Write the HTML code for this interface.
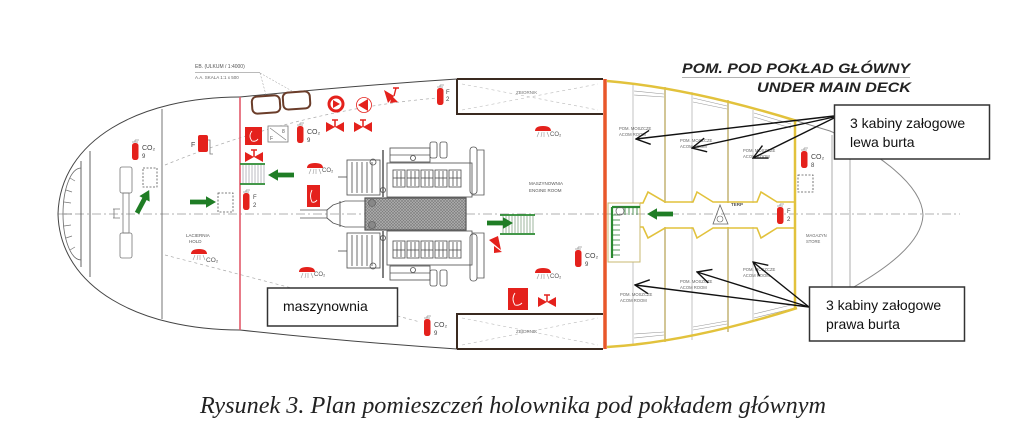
<!DOCTYPE html>
<html><head><meta charset="utf-8">
<style>
html,body{margin:0;padding:0;background:#fff;}
svg{display:block;}
</style></head>
<body>
<svg width="1024" height="430" viewBox="0 0 1024 430" xmlns="http://www.w3.org/2000/svg" font-family="'Liberation Sans', Arial, sans-serif">
<defs>
<pattern id="hatch" width="3" height="3" patternUnits="userSpaceOnUse">
<rect width="3" height="3" fill="#b0b0b0"/>
<path d="M0,0 L3,3 M3,0 L0,3" stroke="#7a7a7a" stroke-width="0.6"/>
</pattern>
<marker id="ah" markerWidth="16" markerHeight="16" refX="15" refY="8" orient="auto" markerUnits="userSpaceOnUse" viewBox="0 0 16 16">
<path d="M1,1 L15,8 L1,15" fill="none" stroke="#111" stroke-width="1.4"/>
</marker>
<g id="ext"><path d="M-3,-1 h6 M0,-1 v-2 M0,-3 h4" stroke="#999" stroke-width="0.8" fill="none"/><rect x="-3" y="0" width="6.5" height="17" rx="2.6" fill="#e4211c"/></g>
<g id="spr"><path d="M-8,0 Q-8,-5 0,-5 Q8,-5 8,0 Z" fill="#e4211c"/><path d="M-4,1 l-2,5 M-1,1 l-1,5 M1,1 l0,5 M4,1 l2,5" stroke="#999" stroke-width="0.6"/></g>
<g id="valve"><path d="M-9,-5 L0,0 L-9,5 Z M9,-5 L0,0 L9,5 Z" fill="#e4211c"/><path d="M0,0 V-7 M-3,-7 H3" stroke="#e4211c" stroke-width="1.5"/></g>
<g id="garr"><path d="M0,-2.4 H16 V-5.8 L26,0 L16,5.8 V2.4 H0 Z" fill="#1f7d25"/></g>
<g id="cyl"><rect x="0" y="0" width="12" height="17" /><line x1="4" y1="1" x2="4" y2="16"/><line x1="8" y1="1" x2="8" y2="16"/><line x1="0" y1="8" x2="12" y2="8"/></g>
<g id="eng" stroke="#555" stroke-width="0.85" fill="none">
<rect x="387" y="163" width="85" height="34"/>
<rect x="390" y="148" width="40" height="14"/>
<line x1="390" y1="155" x2="430" y2="155"/>
<circle cx="413" cy="158" r="2.5"/>
<rect x="430" y="142" width="7" height="16" rx="2"/>
<rect x="440" y="142" width="7" height="16" rx="2"/>
<rect x="470" y="147" width="7" height="47" rx="3"/>
<path d="M477,150 H484 V195 H472"/>
<use href="#cyl" x="393" y="170"/>
<use href="#cyl" x="407" y="170"/>
<use href="#cyl" x="421" y="170"/>
<use href="#cyl" x="435" y="170"/>
<use href="#cyl" x="449" y="170"/>
<rect x="347" y="160" width="33" height="35"/>
<path d="M352,162 V193 M357,162 V193 M362,162 V193 M367,162 V193 M372,162 V193"/>
<line x1="383" y1="150" x2="383" y2="197" stroke-width="1.5"/>
<circle cx="373" cy="162" r="3"/>
<circle cx="383" cy="190" r="2.5"/>
<line x1="338" y1="177" x2="347" y2="177"/>
</g>
</defs>

<!-- center line -->
<path d="M58,214 H960" stroke="#999" stroke-width="0.7" stroke-dasharray="9 3 2 3" fill="none"/>

<!-- hull left/stern -->
<path d="M240,97 C140,97 60,140 58,214 C60,288 140,330 240,330" fill="none" stroke="#444" stroke-width="1"/>
<path d="M240,97 Q350,86 457,79 L603,79" fill="none" stroke="#444" stroke-width="1"/>
<path d="M240,330 Q350,342 457,349 L603,349" fill="none" stroke="#444" stroke-width="1"/>

<!-- stern inner lines -->
<line x1="81" y1="161" x2="81" y2="267" stroke="#555" stroke-width="0.9"/>
<line x1="90" y1="151" x2="90" y2="277" stroke="#555" stroke-width="0.9"/>
<path d="M81,168 A18,46 0 0 0 81,260" fill="none" stroke="#666" stroke-width="0.8"/>
<path d="M66,190 l6,2 M64,202 l7,1 M64,214 l8,0 M64,226 l7,-1 M66,238 l6,-2 M70,178 l5,3 M70,250 l5,-3" stroke="#777" stroke-width="0.7"/>
<line x1="162" y1="109" x2="162" y2="319" stroke="#666" stroke-width="0.9"/>
<!-- propeller -->
<g stroke="#777" stroke-width="0.8" fill="none">
<rect x="120" y="167" width="12" height="26" rx="2"/>
<rect x="123" y="193" width="6" height="40"/>
<rect x="120" y="233" width="12" height="25" rx="2"/>
<path d="M113,209 h7 M113,218 h7 M114,209 v9"/>
</g>

<!-- dashed curves -->
<path d="M165,165 Q300,110 437,98" fill="none" stroke="#aaa" stroke-width="0.7" stroke-dasharray="3 3"/>
<path d="M165,255 Q300,290 420,322" fill="none" stroke="#aaa" stroke-width="0.7" stroke-dasharray="3 3"/>

<!-- red bulkhead -->
<line x1="240" y1="97" x2="240" y2="330" stroke="#e35a6a" stroke-width="1.6"/>

<!-- annotation top-left -->
<text x="195" y="68" font-size="5" fill="#555">EB. (ULKUM / 1:4000)</text>
<line x1="195" y1="72.5" x2="260" y2="72.5" stroke="#777" stroke-width="0.6"/>
<text x="195" y="79" font-size="4.5" fill="#666">A.A. SKALA 1:1 x 500</text>
<path d="M260,73 L266,95 M260,73 L292,91" stroke="#999" stroke-width="0.5" stroke-dasharray="2 1.5" fill="none"/>

<!-- left compartment items -->
<use href="#ext" x="135" y="143"/>
<text x="142" y="150" font-size="7" fill="#444">CO₂</text>
<text x="142" y="158" font-size="6" fill="#444">9</text>
<rect x="143" y="168" width="14" height="19" fill="none" stroke="#555" stroke-width="0.8" stroke-dasharray="2 1.5"/>
<use href="#garr" transform="translate(137,213) rotate(-62)"/>
<rect x="198" y="135" width="10" height="17" rx="2" fill="#e4211c"/>
<path d="M208,140 h2 v14 h3" stroke="#777" stroke-width="0.8" fill="none"/>
<text x="191" y="147" font-size="7" fill="#444">F</text>
<use href="#garr" x="190" y="202"/>
<rect x="218" y="193" width="15" height="19" fill="none" stroke="#555" stroke-width="0.8" stroke-dasharray="2 1.5"/>
<text x="186" y="237" font-size="4.5" fill="#555">LACIERNIA</text>
<text x="189" y="243" font-size="4.5" fill="#555">HOLD</text>
<use href="#spr" x="199" y="254"/>
<text x="206" y="262" font-size="6.5" fill="#555">CO₂</text>

<!-- engine room items -->
<rect x="252" y="96" width="28" height="17" rx="5" fill="none" stroke="#6b3d2a" stroke-width="2" transform="rotate(-4 266 104)"/>
<rect x="283" y="92" width="27" height="17" rx="5" fill="none" stroke="#6b3d2a" stroke-width="2" transform="rotate(-4 296 100)"/>
<circle cx="336" cy="104" r="8.5" fill="#e4211c"/>
<circle cx="336" cy="104" r="5.5" fill="#fff"/>
<path d="M333,100 L340,104 L333,108 Z" fill="#e4211c"/>
<circle cx="364" cy="105" r="7.5" fill="#fff" stroke="#e4211c" stroke-width="0.8"/>
<path d="M358,105 L368,99 L368,111 Z" fill="#e4211c"/>
<path d="M384,90 L394,96 L388,103 Z M392,96 L398,102 L390,103 Z" fill="#e4211c"/>
<path d="M394,96 L396,88 M393,88 H399" stroke="#e4211c" stroke-width="1.4"/>
<use href="#valve" x="335" y="127"/>
<use href="#valve" x="363" y="127"/>
<use href="#ext" x="440" y="88"/>
<text x="446" y="94" font-size="6" fill="#444">F</text>
<text x="446" y="101" font-size="6" fill="#444">2</text>
<rect x="245" y="127" width="17" height="18" fill="#e4211c"/>
<path d="M252,131 Q248,136 252,141 Q256,142 258,139" stroke="#fff" stroke-width="0.9" fill="none"/>
<rect x="268" y="126" width="20" height="16" fill="#fff" stroke="#777" stroke-width="0.8"/>
<path d="M270,128 L286,140" stroke="#777" stroke-width="0.6"/>
<text x="270" y="140" font-size="5" fill="#555">F</text>
<text x="282" y="133" font-size="5" fill="#555">8</text>
<use href="#ext" x="300" y="126"/>
<text x="307" y="134" font-size="7" fill="#444">CO₂</text>
<text x="307" y="142" font-size="6" fill="#444">9</text>
<use href="#valve" x="254" y="157"/>
<!-- stairs left -->
<g stroke="#2a8a30" stroke-width="1.8"><line x1="240" y1="164" x2="265" y2="164"/><line x1="240" y1="184" x2="265" y2="184"/></g>
<path d="M243,165 v18 M246,165 v18 M249,165 v18 M252,165 v18 M255,165 v18 M258,165 v18 M261,165 v18 M264,165 v18" stroke="#667" stroke-width="0.45"/>
<use href="#garr" transform="translate(294,175) rotate(180)"/>
<use href="#ext" x="246" y="193"/>
<text x="253" y="199" font-size="6" fill="#444">F</text>
<text x="253" y="207" font-size="6" fill="#444">2</text>
<use href="#spr" x="315" y="168"/>
<text x="322" y="172" font-size="6" fill="#555">CO₂</text>
<rect x="307" y="185" width="13" height="22" fill="#e4211c"/>
<path d="M312,190 Q309,196 312,202 Q315,203 317,200" stroke="#fff" stroke-width="0.9" fill="none"/>
<use href="#spr" x="307" y="272"/>
<text x="314" y="276" font-size="6" fill="#555">CO₂</text>

<!-- engines -->
<use href="#eng"/>
<use href="#eng" transform="translate(0,428) scale(1,-1)"/>
<g stroke="#555" stroke-width="0.85" fill="none">
<path d="M365,201 L345,201 L333,205 L327,210 V218 L333,223 L345,227 L365,227"/>
<path d="M300,210 H327 M300,218 H327 M340,201 V227"/>
</g>
<rect x="365" y="198" width="101" height="32" fill="url(#hatch)" stroke="#555" stroke-width="1.2"/>
<circle cx="372" cy="203" r="3.5" fill="#888" stroke="#555" stroke-width="0.6"/>
<circle cx="372" cy="225" r="3.5" fill="#888" stroke="#555" stroke-width="0.6"/>

<!-- right engine room -->
<use href="#spr" x="543" y="131"/>
<text x="550" y="136" font-size="6" fill="#555">CO₂</text>
<text x="529" y="185" font-size="4.5" fill="#555">MASZYNOWNIA</text>
<text x="529" y="192" font-size="4.5" fill="#555">ENGINE ROOM</text>
<g stroke="#2a8a30" stroke-width="1.8"><line x1="500" y1="215" x2="535" y2="215"/><line x1="500" y1="234" x2="535" y2="234"/></g>
<path d="M503,216 v17 M506,216 v17 M509,216 v17 M512,216 v17 M515,216 v17 M518,216 v17 M521,216 v17 M524,216 v17 M527,216 v17 M530,216 v17 M533,216 v17" stroke="#3a6a3a" stroke-width="0.5"/>
<use href="#garr" x="487" y="223"/>
<path d="M489,240 L498,236 L501,250 Z M494,246 L502,252 L494,253 Z" fill="#e4211c"/>
<use href="#ext" x="578" y="250"/>
<text x="585" y="258" font-size="7" fill="#444">CO₂</text>
<text x="585" y="266" font-size="6" fill="#444">9</text>
<use href="#spr" x="543" y="273"/>
<text x="550" y="278" font-size="6" fill="#555">CO₂</text>
<rect x="508" y="288" width="20" height="22" fill="#e4211c"/>
<path d="M515,293 Q511,299 515,305 Q519,306 522,303" stroke="#fff" stroke-width="0.9" fill="none"/>
<use href="#valve" x="547" y="302"/>
<use href="#ext" x="427" y="319"/>
<text x="434" y="327" font-size="7" fill="#444">CO₂</text>
<text x="434" y="335" font-size="6" fill="#444">9</text>

<!-- tanks -->
<path d="M457,79 H603 M457,79 V114 H603" fill="none" stroke="#3a2a20" stroke-width="2"/>
<path d="M457,349 H603 M457,349 V314 H603" fill="none" stroke="#3a2a20" stroke-width="2"/>
<path d="M462,84 L598,110 M462,110 L598,84" stroke="#bbb" stroke-width="0.6" stroke-dasharray="3 3"/>
<path d="M462,318 L598,345 M462,345 L598,318" stroke="#bbb" stroke-width="0.6" stroke-dasharray="3 3"/>
<text x="516" y="94" font-size="4.5" fill="#777">ZBIORNIK</text>
<text x="516" y="333" font-size="4.5" fill="#777">ZBIORNIK</text>

<!-- cabin section -->
<g stroke="#aaa" stroke-width="0.7">
<line x1="633" y1="85" x2="633" y2="203"/><line x1="633" y1="262" x2="633" y2="344"/>
<line x1="692" y1="92" x2="692" y2="203"/><line x1="692" y1="227" x2="692" y2="340"/>
<line x1="753" y1="110" x2="753" y2="203"/><line x1="753" y1="227" x2="753" y2="322"/>
</g>
<g stroke="#bfae6a" stroke-width="1.4">
<line x1="665" y1="87" x2="665" y2="203"/><line x1="665" y1="227" x2="665" y2="342"/>
<line x1="728" y1="100" x2="728" y2="203"/><line x1="728" y1="227" x2="728" y2="332"/>
</g>
<g stroke="#999" stroke-width="0.6" fill="none">
<path d="M634,91 L664,94 M634,95 L664,97"/>
<path d="M693,98 L727,106 M693,102 L727,109"/>
<path d="M754,113 L791,124 M754,117 L791,128"/>
<path d="M634,338 L664,335 M634,334 L664,332"/>
<path d="M693,330 L727,324 M693,327 L727,321"/>
<path d="M754,318 L791,309 M754,314 L791,305"/>
</g>
<!-- corridor -->
<path d="M640,203 H643 L648,192 L665,202 H693 L697,192 L713,202 H757 L761,192 L777,202 H795" fill="none" stroke="#e2c23c" stroke-width="1.6"/>
<path d="M640,227 H643 L648,238 L665,228 H693 L697,238 L713,228 H757 L761,238 L777,228 H795" fill="none" stroke="#e2c23c" stroke-width="1.6"/>
<!-- stair box -->
<rect x="608" y="203" width="32" height="59" fill="none" stroke="#c8b870" stroke-width="1"/>
<path d="M612,207 V258 M612,207 H640" stroke="#2a8a30" stroke-width="2.2" fill="none"/>
<path d="M612,215 h8 M612,220 h8 M612,225 h8 M612,230 h8 M612,235 h8 M612,240 h8 M612,245 h8 M612,250 h8 M612,255 h8 M625,207 v8 M629,207 v8 M633,207 v8 M637,207 v8" stroke="#2a7a30" stroke-width="0.8"/>
<circle cx="620" cy="211" r="4" fill="none" stroke="#555" stroke-width="0.7"/>
<use href="#garr" transform="translate(673,214) rotate(180)"/>
<path d="M720,205 L713,224 L728,224 Z" fill="none" stroke="#666" stroke-width="0.8"/>
<circle cx="720" cy="219" r="3" fill="none" stroke="#666" stroke-width="0.6"/>
<text x="731" y="206" font-size="4.5" font-weight="bold" fill="#555">TERP</text>
<use href="#ext" x="780" y="207"/>
<text x="787" y="213" font-size="6" fill="#444">F</text>
<text x="787" y="221" font-size="6" fill="#444">2</text>
<!-- cabin labels -->
<g font-size="4.2" fill="#666">
<text x="619" y="130">POM. MOSZCZE</text><text x="619" y="136">ACOM ROOM</text>
<text x="680" y="142">POM. MOSZCZE</text><text x="680" y="148">ACOM ROOM</text>
<text x="743" y="152">POM. MOSZCZE</text><text x="743" y="158">ACOM ROOM</text>
<text x="620" y="296">POM. MOSZCZE</text><text x="620" y="302">ACOM ROOM</text>
<text x="680" y="283">POM. MOSZCZE</text><text x="680" y="289">ACOM ROOM</text>
<text x="743" y="271">POM. MOSZCZE</text><text x="743" y="277">ACOM ROOM</text>
</g>

<!-- hull forward (yellow) -->
<line x1="605" y1="79" x2="605" y2="349" stroke="#e8572a" stroke-width="3.5"/>
<path d="M607,81 Q690,88 797,121" fill="none" stroke="#e2c23c" stroke-width="2.5"/>
<path d="M607,347 Q690,342 797,308" fill="none" stroke="#e2c23c" stroke-width="2.5"/>
<line x1="795" y1="121" x2="795" y2="308" stroke="#e2c23c" stroke-width="2.5"/>

<!-- bow -->
<path d="M797,121 L830,131 C878,152 922,185 923,215 C922,245 880,272 852,288" fill="none" stroke="#888" stroke-width="1"/>
<line x1="832" y1="135" x2="832" y2="292" stroke="#999" stroke-width="0.8"/>
<line x1="850" y1="158" x2="850" y2="288" stroke="#999" stroke-width="0.8"/>
<use href="#ext" x="804" y="151"/>
<text x="811" y="159" font-size="7" fill="#444">CO₂</text>
<text x="811" y="167" font-size="6" fill="#444">8</text>
<rect x="798" y="175" width="15" height="17" fill="none" stroke="#555" stroke-width="0.8" stroke-dasharray="2 1.5"/>
<text x="806" y="237" font-size="4.2" fill="#666">MAGAZYN</text>
<text x="806" y="243" font-size="4.2" fill="#666">STORE</text>

<!-- title -->
<text x="682" y="73" font-size="14" font-weight="bold" font-style="italic" fill="#222" textLength="228" lengthAdjust="spacingAndGlyphs">POM. POD POKŁAD GŁÓWNY</text>
<line x1="682" y1="77.5" x2="910" y2="77.5" stroke="#999" stroke-width="0.8"/>
<text x="757" y="92" font-size="14" font-weight="bold" font-style="italic" fill="#222" textLength="154" lengthAdjust="spacingAndGlyphs">UNDER MAIN DECK</text>

<!-- callout arrows -->
<g stroke="#111" stroke-width="1.4" fill="none">
<line x1="834" y1="116" x2="636" y2="139" marker-end="url(#ah)"/>
<line x1="834" y1="117" x2="692" y2="148" marker-end="url(#ah)"/>
<line x1="834" y1="118" x2="753" y2="158" marker-end="url(#ah)"/>
<line x1="809" y1="307" x2="635" y2="285" marker-end="url(#ah)"/>
<line x1="809" y1="307" x2="697" y2="272" marker-end="url(#ah)"/>
<line x1="809" y1="307" x2="753" y2="262" marker-end="url(#ah)"/>
</g>

<!-- callout boxes -->
<rect x="834.5" y="105" width="155" height="54" fill="#fff" stroke="#333" stroke-width="1.5"/>
<text x="850" y="128" font-size="14" fill="#111">3 kabiny załogowe</text>
<text x="850" y="147" font-size="14" fill="#111">lewa burta</text>
<rect x="809.5" y="287" width="155" height="54" fill="#fff" stroke="#333" stroke-width="1.5"/>
<text x="826" y="310" font-size="14" fill="#111">3 kabiny załogowe</text>
<text x="826" y="329" font-size="14" fill="#111">prawa burta</text>

<rect x="267.5" y="288" width="130" height="38" fill="#fff" stroke="#333" stroke-width="1.5"/>
<text x="283" y="311" font-size="14" fill="#111">maszynownia</text>

<!-- caption -->
<text x="200" y="413" font-family="'Liberation Serif', 'Times New Roman', serif" font-style="italic" font-size="24" fill="#222" textLength="626" lengthAdjust="spacingAndGlyphs">Rysunek 3. Plan pomieszczeń holownika pod pokładem głównym</text>
</svg>
</body></html>
